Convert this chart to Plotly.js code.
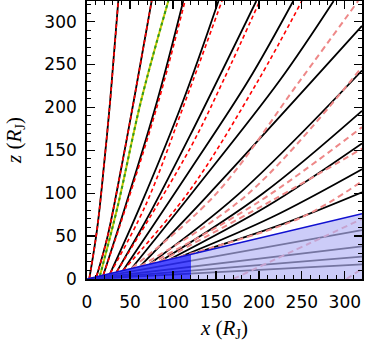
<!DOCTYPE html>
<html>
<head>
<meta charset="utf-8">
<script src="https://cdn.plot.ly/plotly-3.0.1.min.js"></script>
<style>
  html, body { margin: 0; padding: 0; background: white; }
  #plotArea { width: 365px; height: 342px; }
</style>
</head>
<body>
<div id="plotArea"></div>
<script>
// field lines, solid black (x, z in R_J)
var blackX = [
  [2.7, 12, 20.5, 27, 36.4],
  [11, 24, 40, 54.5, 75.2],
  [19, 45, 81.8, 112],
  [27, 62.4, 112, 153],
  [34.5, 75, 119.8, 197],
  [42, 119.8, 187.6, 240],
  [52, 122, 224, 287],
  [62, 140, 320],
  [73, 175, 320],
  [85, 205, 320],
  [96.5, 210, 320],
  [110, 215, 320],
  [127.5, 225, 320],
  [5, 320],
  [5, 320],
  [5, 320],
  [5, 320]
];
var blackZ = [
  [0.6, 60, 140, 208, 324],
  [2.6, 50, 130, 208, 324],
  [4.6, 86, 208, 324],
  [6.5, 86, 208, 324],
  [8.3, 80, 167, 324],
  [10, 126.7, 231, 324],
  [12.5, 100, 231, 324],
  [15, 97, 295],
  [17.5, 97.7, 243],
  [20.4, 100, 196],
  [23, 85, 158],
  [26.4, 72, 128],
  [30.6, 63, 101],
  [0.5, 57],
  [0.3, 38],
  [0.2, 26],
  [0.1, 17]
];

// model lines, red dashed
var redX = [
  [2.7, 12, 20.5, 27, 36.4],
  [11, 24, 40, 54.5, 75.2],
  [19, 46, 83.5, 114],
  [27, 68.2, 114.7, 157],
  [34.5, 119.8, 158.5, 201],
  [42, 119.8, 199, 250]
];
var redZ = [
  [0.6, 60, 140, 208, 324],
  [2.6, 50, 130, 208, 324],
  [4.6, 86, 208, 324],
  [6.5, 86, 208, 324],
  [8.3, 152, 231, 324],
  [10, 103.5, 231, 324]
];

// model lines, faded red dashed
var pinkX = [
  [52, 148.8, 247.7, 315.5],
  [62, 185.7, 320],
  [73, 200, 320],
  [85, 216.9, 320],
  [96.5, 247.7, 320],
  [170, 260, 320],
  [302, 320]
];
var pinkZ = [
  [12.5, 97.7, 231, 324],
  [15, 97.7, 247],
  [17.5, 90, 177],
  [20.4, 92.4, 152],
  [23, 71, 114],
  [0, 42, 70],
  [0, 12]
];

// green line
var greenX = [15, 36, 63, 94.6];
var greenZ = [3.6, 86, 208, 324];

// disk surface
var diskX = [0, 121, 320];
var diskZ = [0, 29, 76];

var data = [];

function addLines(xs, zs, color, width, dash) {
  for (var i = 0; i < xs.length; i++) {
    data.push({
      x: xs[i], y: zs[i], mode: 'lines', hoverinfo: 'skip',
      line: { color: color, width: width, dash: dash, shape: 'spline', smoothing: 1 }
    });
  }
}

addLines(blackX, blackZ, '#000000', 1.8, 'solid');
addLines(pinkX, pinkZ, '#ee8888', 2, '6px,4px');
addLines(redX, redZ, '#ff0000', 1.6, '4px,3px');

data.push({
  x: greenX, y: greenZ, mode: 'lines', hoverinfo: 'skip',
  line: { color: '#c8c800', width: 2, shape: 'spline', smoothing: 1 }
});
data.push({
  x: greenX, y: greenZ, mode: 'lines', hoverinfo: 'skip',
  line: { color: '#2e9a1e', width: 2, dash: '3px,3px', shape: 'spline', smoothing: 1 }
});

// translucent outer disk
data.push({
  x: [diskX[1], diskX[1], diskX[2], diskX[2]],
  y: [0, diskZ[1], diskZ[2], 0],
  mode: 'lines', fill: 'toself', hoverinfo: 'skip',
  fillcolor: 'rgba(178,178,245,0.66)', line: { width: 0 }
});
// inner disk
data.push({
  x: [diskX[0], diskX[1], diskX[1]],
  y: [diskZ[0], diskZ[1], 0],
  mode: 'lines', fill: 'toself', hoverinfo: 'skip',
  fillcolor: 'rgba(45,45,255,0.85)', line: { width: 0 }
});
// disk surface line
data.push({
  x: diskX, y: diskZ, mode: 'lines', hoverinfo: 'skip',
  line: { color: '#1010d0', width: 1.6 }
});

var axisCommon = {
  showgrid: false, zeroline: false,
  showline: true, linecolor: '#000', linewidth: 1.8, mirror: 'allticks',
  ticks: 'inside', ticklen: 8, tickwidth: 1.3, tickcolor: '#000',
  tick0: 0, dtick: 50,
  minor: { ticks: 'inside', ticklen: 4, tickwidth: 1, tickcolor: '#000', dtick: 10 },
  tickfont: { family: 'DejaVu Sans', size: 17, color: '#000' }
};

var layout = {
  width: 365, height: 342,
  margin: { l: 87, r: 3, t: 1, b: 63 },
  paper_bgcolor: 'white', plot_bgcolor: 'white',
  showlegend: false,
  xaxis: Object.assign({}, axisCommon, {
    range: [0, 320],
    ticklabelstandoff: 7,
    title: { text: '<i>x</i> (<i>R</i><sub>J</sub>)', font: { family: 'Liberation Serif', size: 21, color: '#000' }, standoff: 9 }
  }),
  yaxis: Object.assign({}, axisCommon, {
    range: [0, 324],
    ticklabelstandoff: 5,
    title: { text: '<i>z</i> (<i>R</i><sub>J</sub>)', font: { family: 'Liberation Serif', size: 21, color: '#000' }, standoff: 17 }
  })
};

Plotly.newPlot('plotArea', data, layout, { displayModeBar: false, staticPlot: true });
</script>
</body>
</html>
